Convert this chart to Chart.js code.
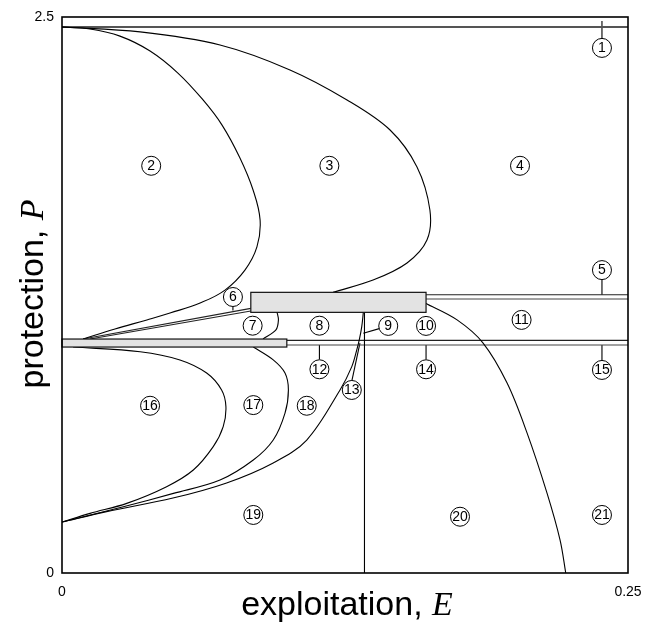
<!DOCTYPE html>
<html lang="en">
<head>
<meta charset="UTF-8" />
<title>Protection / exploitation regions</title>
<script src="https://cdn.jsdelivr.net/npm/chart.js"></script>
<style>
  html, body { margin: 0; padding: 0; background: #fff; }
  #wrap { width: 647px; height: 635px; }
</style>
</head>
<body>
<div id="wrap"><canvas id="chart" width="647" height="635"></canvas></div>
<script>
// axis ticks
const xTicks = [0, 0.25];
const xTickLabels = ['0', '0.25'];
const yTicks = [0, 2.5];
const yTickLabels = ['0', '2.5'];

// boundary curves as [E, P] pairs
const curve23 = [[0, 2.455], [0.0124, 2.446], [0.0256, 2.414], [0.0389, 2.347], [0.0512, 2.248],
  [0.0623, 2.127], [0.0707, 2.014], [0.0786, 1.866], [0.0844, 1.722], [0.0875, 1.587],
  [0.0861, 1.466], [0.0808, 1.362], [0.0720, 1.272], [0.0610, 1.214], [0.0477, 1.169],
  [0.0375, 1.138], [0.0234, 1.097], [0.0093, 1.052]];
const curve34 = [[0, 2.455], [0.0345, 2.433], [0.0698, 2.374], [0.1007, 2.262], [0.1259, 2.127],
  [0.1449, 1.992], [0.1568, 1.826], [0.1625, 1.632], [0.1612, 1.497], [0.1524, 1.394],
  [0.1374, 1.317], [0.1197, 1.262]];
const curve6a = [[0.0834, 1.190], [0.0093, 1.052]];
const curve6b = [[0.0834, 1.178], [0.0124, 1.052]];
const curve78 = [[0.0950, 1.172], [0.0956, 1.138], [0.0945, 1.093], [0.0888, 1.052]];
const curve89 = [[0.1331, 1.172], [0.1324, 1.108], [0.1313, 1.048], [0.1302, 1.003], [0.1280, 0.928],
  [0.1228, 0.823], [0.1081, 0.598], [0.0933, 0.495], [0.0727, 0.405], [0.0490, 0.337],
  [0.0197, 0.276], [0, 0.229]];
const curve1617 = [[0.0049, 1.016], [0.0345, 0.995], [0.0521, 0.958], [0.0639, 0.899], [0.0705, 0.823],
  [0.0724, 0.748], [0.0712, 0.658], [0.0668, 0.568], [0.0580, 0.463], [0.0462, 0.388],
  [0.0286, 0.313], [0.0124, 0.268], [0, 0.229]];
const curve1718 = [[0.0845, 1.016], [0.0933, 0.958], [0.0985, 0.899], [0.1000, 0.823], [0.0985, 0.719],
  [0.0933, 0.598], [0.0845, 0.508], [0.0698, 0.418], [0.0492, 0.358], [0.0271, 0.298], [0, 0.229]];
const curve1011 = [[0.1603, 1.214], [0.1745, 1.138], [0.1860, 1.034], [0.1966, 0.854], [0.2054, 0.630],
  [0.2142, 0.360], [0.2200, 0.148], [0.2225, 0]];
const vertical = [[0.1336, 1.172], [0.1336, 0]];

// horizontal double lines
const topLine = [[0, 2.455], [0.25, 2.455]];
const upperLineA = [[0.1608, 1.251], [0.25, 1.251]];
const upperLineB = [[0.1608, 1.232], [0.25, 1.232]];
const lowerLineA = [[0.0993, 1.046], [0.25, 1.046]];
const lowerLineB = [[0.0993, 1.025], [0.25, 1.025]];

// shaded boxes: [E0, E1, P0, P1]
const upperBox = [0.0834, 0.1608, 1.172, 1.262];
const lowerBox = [0, 0.0993, 1.016, 1.052];

// region labels [text, E, P] and their pointer lines
const regionLabels = [
  ['1', 0.2385, 2.361], ['2', 0.0394, 1.831], ['3', 0.1181, 1.831], ['4', 0.2023, 1.831],
  ['5', 0.2385, 1.362], ['6', 0.0755, 1.241], ['7', 0.0842, 1.112], ['8', 0.1137, 1.112],
  ['9', 0.1441, 1.111], ['10', 0.1608, 1.111], ['11', 0.2030, 1.138], ['12', 0.1137, 0.916],
  ['13', 0.1280, 0.823], ['14', 0.1608, 0.916], ['15', 0.2385, 0.913], ['16', 0.0389, 0.752],
  ['17', 0.0845, 0.755], ['18', 0.1081, 0.752], ['19', 0.0845, 0.261], ['20', 0.1758, 0.253],
  ['21', 0.2385, 0.261]
];
const pointers = [
  [[0.2385, 2.482], [0.2385, 2.401]],
  [[0.2385, 1.317], [0.2385, 1.251]],
  [[0.0755, 1.200], [0.0755, 1.180]],
  [[0.1405, 1.100], [0.1331, 1.078]],
  [[0.1137, 1.025], [0.1137, 0.960]],
  [[0.1280, 0.863], [0.1316, 1.034]],
  [[0.1608, 1.025], [0.1608, 0.960]],
  [[0.2385, 1.025], [0.2385, 0.954]]
];

function line(points, extra) {
  return Object.assign({
    data: points.map(p => ({ x: p[0], y: p[1] })),
    showLine: true,
    pointRadius: 0,
    borderColor: '#000',
    borderWidth: 1.1,
    tension: 0,
    fill: false
  }, extra || {});
}

const datasets = [
  line(curve23, { tension: 0.4 }),
  line(curve34, { tension: 0.35 }),
  line(curve6a, { borderColor: '#222' }),
  line(curve6b, { borderColor: '#222' }),
  line(curve78, { tension: 0.3 }),
  line(curve89, { tension: 0.35 }),
  line(curve1617, { tension: 0.35 }),
  line(curve1718, { tension: 0.35 }),
  line(curve1011, { tension: 0.35 }),
  line(vertical),
  line(topLine, { borderColor: '#555', borderWidth: 2 }),
  line(upperLineA, { borderColor: '#222' }),
  line(upperLineB, { borderColor: '#444' }),
  line(lowerLineA, { borderColor: '#222' }),
  line(lowerLineB, { borderColor: '#444' })
].concat(pointers.map(p => line(p)));

const diagram = {
  id: 'diagram',
  afterDatasetsDraw(chart) {
    const ctx = chart.ctx;
    const xs = chart.scales.x, ys = chart.scales.y;
    const area = chart.chartArea;

    ctx.save();
    [upperBox, lowerBox].forEach(b => {
      const x0 = xs.getPixelForValue(b[0]), x1 = xs.getPixelForValue(b[1]);
      const y0 = ys.getPixelForValue(b[3]), y1 = ys.getPixelForValue(b[2]);
      ctx.fillStyle = '#e3e3e3';
      ctx.fillRect(x0, y0, x1 - x0, y1 - y0);
      ctx.strokeStyle = '#111';
      ctx.lineWidth = 1.2;
      ctx.strokeRect(x0, y0, x1 - x0, y1 - y0);
    });

    regionLabels.forEach(([t, e, p]) => {
      const cx = xs.getPixelForValue(e), cy = ys.getPixelForValue(p);
      ctx.beginPath();
      ctx.arc(cx, cy, 9.5, 0, Math.PI * 2);
      ctx.fillStyle = '#fff';
      ctx.fill();
      ctx.lineWidth = 1;
      ctx.strokeStyle = '#000';
      ctx.stroke();
      ctx.fillStyle = '#000';
      ctx.font = '14px "Liberation Sans", Arial, sans-serif';
      ctx.textAlign = 'center';
      ctx.textBaseline = 'middle';
      ctx.fillText(t, cx, cy + 0.5);
    });

    ctx.lineWidth = 1.6;
    ctx.strokeStyle = '#000';
    ctx.strokeRect(area.left, area.top, area.right - area.left, area.bottom - area.top);
    ctx.restore();
  },
  afterDraw(chart) {
    const ctx = chart.ctx;
    const sans = '34px "Liberation Sans", Arial, sans-serif';
    const serif = 'italic 34px "Liberation Serif", "DejaVu Serif", serif';
    ctx.save();
    ctx.fillStyle = '#000';
    ctx.textBaseline = 'alphabetic';
    ctx.textAlign = 'left';

    // x title
    ctx.font = sans;
    const xa = 'exploitation, ';
    const wa = ctx.measureText(xa).width;
    ctx.font = serif;
    const wb = ctx.measureText('E').width;
    let x = 347 - (wa + wb) / 2;
    ctx.font = sans;
    ctx.fillText(xa, x, 615);
    ctx.font = serif;
    ctx.fillText('E', x + wa, 615);

    // y title
    ctx.translate(43, 294);
    ctx.rotate(-Math.PI / 2);
    ctx.font = sans;
    const ya = 'protection, ';
    const wya = ctx.measureText(ya).width;
    ctx.font = serif;
    const wyb = ctx.measureText('P').width;
    x = -(wya + wyb) / 2;
    ctx.font = sans;
    ctx.fillText(ya, x, 0);
    ctx.font = serif;
    ctx.fillText('P', x + wya, 0);
    ctx.restore();
  }
};

new Chart(document.getElementById('chart'), {
  type: 'scatter',
  data: { datasets: datasets },
  options: {
    responsive: false,
    animation: false,
    devicePixelRatio: 1,
    layout: { padding: { top: 17, right: 19, left: 0, bottom: 0 } },
    plugins: { legend: { display: false }, tooltip: { enabled: false } },
    scales: {
      x: {
        type: 'linear',
        min: 0,
        max: 0.25,
        afterBuildTicks: s => { s.ticks = xTicks.map(v => ({ value: v })); },
        afterFit: s => { s.height = 62; s.paddingLeft = 0; s.paddingRight = 0; },
        grid: { display: false, drawTicks: false },
        border: { display: false },
        ticks: {
          padding: 11,
          maxRotation: 0,
          autoSkip: false,
          color: '#000',
          font: { family: '"Liberation Sans", Arial, sans-serif', size: 14 },
          callback: (v, i) => xTickLabels[i]
        }
      },
      y: {
        type: 'linear',
        min: 0,
        max: 2.5,
        afterBuildTicks: s => { s.ticks = yTicks.map(v => ({ value: v })); },
        afterFit: s => { s.width = 62; s.paddingTop = 0; s.paddingBottom = 0; },
        grid: { display: false, drawTicks: false },
        border: { display: false },
        ticks: {
          padding: 8,
          autoSkip: false,
          color: '#000',
          font: { family: '"Liberation Sans", Arial, sans-serif', size: 14 },
          callback: (v, i) => yTickLabels[i]
        }
      }
    }
  },
  plugins: [diagram]
});
</script>
</body>
</html>
